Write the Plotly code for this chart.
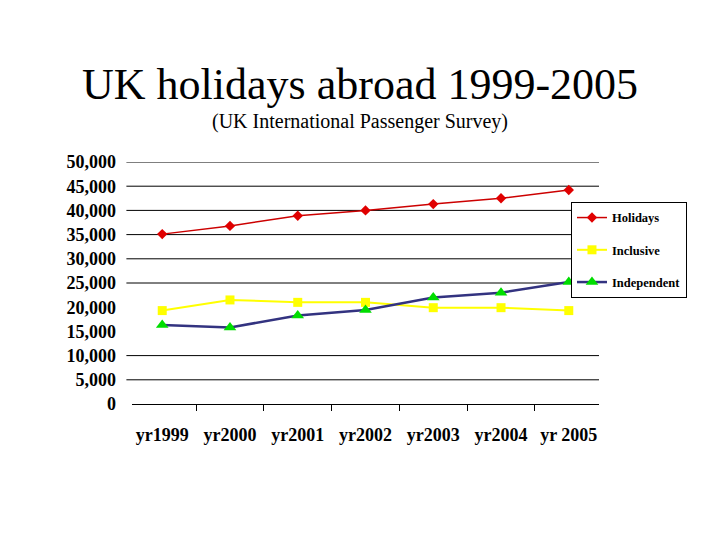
import plotly.graph_objects as go

years = ["yr1999", "yr2000", "yr2001", "yr2002", "yr2003", "yr2004", "yr 2005"]
holidays = [35100, 36800, 38900, 40000, 41300, 42500, 44200]
inclusive = [19300, 21500, 21000, 21000, 19900, 19900, 19300]
independent = [16300, 15800, 18300, 19400, 22000, 23000, 25200]

y_ticks = [0, 5000, 10000, 15000, 20000, 25000, 30000, 35000, 40000, 45000, 50000]
# lignes de grille visibles dans l'original (15 000 et 20 000 absentes)
grid_vals = [5000, 10000, 25000, 30000, 35000, 40000, 45000, 50000]

serif = "Liberation Serif"

fig = go.Figure()

fig.add_trace(go.Scatter(
    x=years, y=holidays, name="Holidays", mode="lines+markers",
    line=dict(color="#cc0000", width=1.5),
    marker=dict(symbol="diamond", size=8, color="#e00000"),
    legendgroup="a",
))
fig.add_trace(go.Scatter(
    x=years, y=inclusive, name="Inclusive", mode="lines+markers",
    line=dict(color="#ffff00", width=2),
    marker=dict(symbol="square", size=9, color="#ffff00"),
    legendgroup="b",
))
fig.add_trace(go.Scatter(
    x=years, y=independent, name="Independent", mode="lines+markers",
    line=dict(color="#333380", width=2.5),
    marker=dict(symbol="triangle-up", size=11, color="#00dd00"),
    legendgroup="c",
))

for v in grid_vals:
    fig.add_hline(y=v, x0=-0.012, x1=1, line=dict(color="black", width=1), layer="below")

fig.update_layout(
    width=720, height=540,
    margin=dict(l=124, r=129, t=154, b=144),
    paper_bgcolor="white", plot_bgcolor="white",
    font=dict(family=serif, color="black"),
    title=dict(
        text="UK holidays abroad 1999-2005",
        x=0.489, xanchor="center", y=0.86, yanchor="middle",
        font=dict(family=serif, size=44, color="black"),
    ),
    annotations=[dict(
        text="(UK International Passenger Survey)", xref="paper", yref="paper",
        x=0.488, y=1.0, yshift=41, xanchor="center", yanchor="middle", showarrow=False,
        font=dict(family=serif, size=20, color="black"),
    )],
    showlegend=True,
    legend=dict(
        x=0.94, y=0.835, xanchor="left", yanchor="top",
        bgcolor="white", bordercolor="black", borderwidth=1,
        font=dict(family=serif, size=12.5, color="black", weight="bold"),
        tracegroupgap=13,
    ),
    xaxis=dict(
        type="category", tickson="boundaries", ticks="outside", ticklen=6,
        tickcolor="black", showline=True, linecolor="black", linewidth=1.2,
        showgrid=False, ticklabelstandoff=14,
        tickfont=dict(family=serif, size=18, color="black", weight="bold"),
    ),
    yaxis=dict(
        range=[0, 50000], tickvals=y_ticks, tickformat=",", showgrid=False,
        zeroline=False, showline=False, ticks="",
        tickfont=dict(family=serif, size=18, color="black", weight="bold"),
        ticklabelstandoff=15,
    ),
)

fig.write_html("out.html")
